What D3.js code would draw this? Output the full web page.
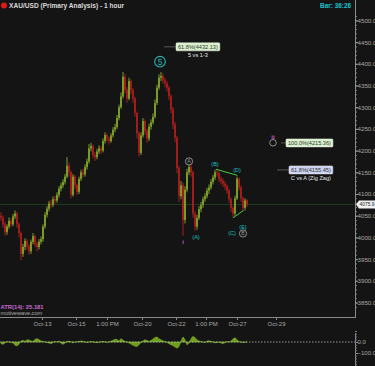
<!DOCTYPE html>
<html><head><meta charset="utf-8">
<script src="https://cdn.jsdelivr.net/npm/d3@7"></script>
<style>
html,body{margin:0;padding:0;background:#141414;}
svg{display:block;font-family:"Liberation Sans",Arial,sans-serif;}
</style></head>
<body>
<svg id="c" width="375" height="366"></svg>
<script>
// ---- data (hourly XAU/USD, condensed bars) ----
const opens = [4050,4045,4030,4012,4025,4038,4030,4048,4055,4030,4010,3962,3978,3992,3980,3968,3990,4003,3985,3978,3990,3996,4025,4052,4066,4078,4075,4088,4085,4098,4112,4120,4128,4140,4165,4150,4098,4140,4120,4105,4135,4150,4145,4162,4175,4205,4210,4190,4185,4198,4205,4200,4222,4236,4228,4222,4235,4248,4254,4275,4300,4325,4370,4340,4320,4360,4340,4320,4287,4240,4195,4235,4268,4245,4228,4255,4265,4278,4310,4345,4368,4372,4362,4355,4345,4325,4295,4260,4230,4160,4095,4120,4040,4110,4150,4162,4150,4055,4025,4045,4065,4075,4088,4095,4108,4115,4128,4138,4150,4148,4135,4130,4124,4118,4108,4088,4068,4055,4090,4135,4115,4090,4068,4085];
const closes = [4045,4030,4012,4025,4038,4030,4048,4055,4030,4010,3962,3978,3992,3980,3968,3990,4003,3985,3978,3990,3996,4025,4052,4066,4078,4075,4088,4085,4098,4112,4120,4128,4140,4165,4150,4098,4140,4120,4105,4135,4150,4145,4162,4175,4205,4210,4190,4185,4198,4205,4200,4222,4236,4228,4222,4235,4248,4254,4275,4300,4325,4370,4340,4320,4360,4340,4320,4287,4240,4195,4235,4268,4245,4228,4255,4265,4278,4310,4345,4368,4372,4362,4355,4345,4325,4295,4260,4230,4160,4095,4120,4040,4110,4150,4162,4150,4055,4025,4045,4065,4075,4088,4095,4108,4115,4128,4138,4150,4148,4135,4130,4124,4118,4108,4088,4068,4055,4090,4135,4115,4090,4068,4085,4076];
const highs = [4058,4050,4036,4030,4046,4044,4054,4062,4058,4034,4014,3985,3998,3996,3984,3995,4010,4006,3990,3996,4002,4030,4058,4072,4084,4086,4094,4096,4104,4118,4126,4134,4146,4185,4172,4154,4146,4144,4124,4140,4156,4158,4168,4182,4215,4218,4214,4196,4204,4212,4210,4228,4242,4240,4232,4240,4254,4262,4282,4306,4334,4381,4376,4346,4368,4364,4344,4324,4290,4244,4242,4275,4272,4250,4262,4272,4286,4318,4352,4376,4381,4378,4368,4360,4350,4330,4300,4266,4234,4165,4130,4126,4118,4158,4168,4166,4154,4060,4052,4072,4082,4094,4102,4114,4122,4134,4144,4156,4156,4152,4140,4136,4130,4122,4112,4092,4072,4096,4140,4138,4120,4094,4090,4088];
const lows = [4038,4022,4004,4006,4020,4024,4026,4042,4022,4000,3947,3955,3970,3972,3960,3962,3984,3978,3968,3972,3984,3990,4020,4046,4060,4068,4070,4078,4080,4092,4106,4114,4122,4136,4140,4090,4094,4112,4098,4100,4130,4138,4140,4156,4170,4198,4182,4176,4180,4192,4192,4196,4216,4220,4214,4218,4230,4242,4250,4270,4296,4320,4332,4310,4316,4330,4310,4278,4228,4186,4190,4230,4236,4218,4222,4248,4260,4274,4305,4340,4360,4354,4346,4336,4316,4286,4250,4220,4148,4082,4088,4004,4032,4104,4144,4140,4045,4015,4018,4040,4058,4068,4082,4090,4100,4110,4122,4132,4140,4128,4122,4116,4110,4100,4080,4058,4046,4050,4086,4108,4082,4060,4062,4070];
const osc = [-15,-20,-10,5,0,-5,-10,-30,-35,-20,10,15,5,20,18,10,5,25,30,22,10,5,0,-5,-10,-15,-5,5,0,10,-12,-20,-10,5,8,2,-8,0,3,5,10,6,0,-5,0,5,2,-4,-6,-2,3,6,2,-3,0,8,15,25,22,10,30,18,5,0,-10,-20,-30,-38,-40,-25,-5,10,20,15,5,15,28,42,45,30,20,10,5,-5,-15,-25,-35,-45,-55,-40,5,45,20,-25,-10,30,50,40,20,10,5,0,-5,8,12,6,0,-8,-5,0,-10,-14,-6,5,0,10,28,38,20,5,0,-5,-3,2];
const xTickIdx = [20.5, 37.5, 53, 70.5, 87.5, 102.5, 118, 137.5];
const xTickLabels = ["Oct-13","Oct-15","1:00 PM","Oct-20","Oct-22","1:00 PM","Oct-27","Oct-29"];
const yTicks = [3850,3900,3950,4000,4050,4100,4150,4200,4250,4300,4350,4400,4450,4500];
const lastPrice = 4075.9;
// wave labels: [barIndex, price, text, style]
const waveLabels = [
  [79.5, 4405, "5", "teal"],
  [94, 4175, "A", "grey"],
  [97.5, 4000, "(A)", "cyan"],
  [107, 4170, "(B)", "cyan"],
  [115.5, 4010, "(C)", "cyan"],
  [118, 4155, "(D)", "cyan"],
  [121, 4024, "(E)", "cyan"],
  [121, 4009, "B", "grey"]
];
const trendB_D = [[107.5, 4157], [118.2, 4143]];
const trendC_E = [[116, 4045], [121.2, 4062]];
const fibs = [
  {price: 4432.13, text: "61.8%(4432.13)", from: 79.5, x0: 176, bg: "#d9f2cc", sub: "5 vs 1-3", dy: -3},
  {price: 4215.36, text: "100.0%(4215.36)", from: 138, x0: 286, bg: "#d9f2cc", sub: null, dy: -1},
  {price: 4155.45, text: "61.8%(4155.45)", from: 136, x0: 289, bg: "#cdd3f2", sub: "C vs A (Zig Zag)", dy: 0}
];

// ---- scales ----
const svg = d3.select("#c");
const W = 375, H = 366;
const axisX = 355, plotTop = 12, plotBottom = 317;
const x = d3.scaleLinear().domain([-0.5, 177]).range([0, axisX]);
const y = d3.scaleLinear().domain([3850, 4500]).range([302.5, 20.4]);
const yo = d3.scaleLinear().domain([-100, 0]).range([353, 342]);

svg.append("rect").attr("width", W).attr("height", H).attr("fill", "#141414");

// title
svg.append("circle").attr("cx", 4).attr("cy", 5.5).attr("r", 3).attr("fill", "#e01818");
svg.append("text").attr("x", 9).attr("y", 8).attr("fill", "#d8d8d8").attr("font-size", 6.6).attr("font-weight", "bold")
  .text("XAU/USD (Primary Analysis) - 1 hour");
svg.append("text").attr("x", 351).attr("y", 8).attr("text-anchor", "end").attr("fill", "#19c4d0").attr("font-size", 6.4).attr("font-weight", "bold")
  .text("Bar: 36:26");

// last price line
svg.append("line").attr("x1", 0).attr("x2", axisX).attr("y1", y(lastPrice)).attr("y2", y(lastPrice))
  .attr("stroke", "#1d3d1d").attr("stroke-width", 1);

// candles
const bars = d3.range(closes.length);
const up = i => closes[i] >= opens[i];
const gc = svg.append("g");
gc.selectAll("line.w").data(bars).join("line")
  .attr("x1", i => x(i)).attr("x2", i => x(i))
  .attr("y1", i => y(highs[i])).attr("y2", i => y(lows[i]))
  .attr("stroke", i => up(i) ? "#86ad2c" : "#b41f1f").attr("stroke-width", 0.9);
gc.selectAll("rect").data(bars).join("rect")
  .attr("x", i => x(i) - 0.8).attr("width", 1.6)
  .attr("y", i => y(Math.max(opens[i], closes[i])))
  .attr("height", i => Math.max(0.8, Math.abs(y(opens[i]) - y(closes[i]))))
  .attr("fill", i => up(i) ? "#86ad2c" : "#b41f1f");

// "i" marker under low
svg.append("text").attr("x", x(91)).attr("y", y(4004) + 8).attr("text-anchor", "middle")
  .attr("fill", "#c45ec4").attr("font-size", 6).attr("font-weight", "bold").text("i");

// trend lines
const line = d3.line().x(d => x(d[0])).y(d => y(d[1]));
[trendB_D, trendC_E].forEach(t => svg.append("path").attr("d", line(t)).attr("stroke", "#3ed13e").attr("stroke-width", 1).attr("fill", "none"));

// wave labels
waveLabels.forEach(([bi, p, t, s]) => {
  const cx = x(bi), cy = y(p);
  if (s === "teal") {
    svg.append("circle").attr("cx", cx).attr("cy", cy).attr("r", 5.3).attr("fill", "none").attr("stroke", "#1fb8b8").attr("stroke-width", 1.1);
    svg.append("text").attr("x", cx).attr("y", cy + 3).attr("text-anchor", "middle").attr("fill", "#1fb8b8").attr("font-size", 8.5).text(t);
  } else if (s === "grey") {
    svg.append("circle").attr("cx", cx).attr("cy", cy).attr("r", 3.6).attr("fill", "none").attr("stroke", "#9a9a9a").attr("stroke-width", 0.9);
    svg.append("text").attr("x", cx).attr("y", cy + 2).attr("text-anchor", "middle").attr("fill", "#9a9a9a").attr("font-size", 5).text(t);
  } else {
    svg.append("text").attr("x", cx).attr("y", cy + 2).attr("text-anchor", "middle").attr("fill", "#1ec0c8").attr("font-size", 5.5).text(t);
  }
});

// ii marker
svg.append("text").attr("x", x(136)).attr("y", y(4232) + 2).attr("text-anchor", "middle")
  .attr("fill", "#c45ec4").attr("font-size", 6).attr("font-weight", "bold").text("ii");
svg.append("circle").attr("cx", x(136)).attr("cy", y(4218)).attr("r", 3.3).attr("fill", "none").attr("stroke", "#9a9a9a").attr("stroke-width", 0.9);

// fib labels
fibs.forEach(f => {
  const cy = y(f.price) + f.dy;
  svg.append("line").attr("x1", x(f.from) + 4).attr("x2", f.x0).attr("y1", cy).attr("y2", cy).attr("stroke", "#555").attr("stroke-width", 1);
  const t = svg.append("text").attr("x", f.x0 + 2).attr("y", cy + 2.2).attr("fill", "#333").attr("font-size", 5.6).text(f.text);
  const w = t.node().getComputedTextLength();
  svg.insert("rect", () => t.node()).attr("x", f.x0).attr("y", cy - 4).attr("width", w + 4).attr("height", 8).attr("rx", 1)
    .attr("fill", f.bg).attr("stroke", "#eee").attr("stroke-width", 0.5);
  if (f.sub) svg.append("text").attr("x", f.x0 + (w + 4) / 2).attr("y", cy + 10).attr("text-anchor", "middle")
    .attr("fill", "#e8e8e8").attr("font-size", 5.6).text(f.sub);
});

// x axis
const gx = svg.append("g").attr("transform", `translate(0,${plotBottom})`)
  .call(d3.axisBottom(x).tickValues(xTickIdx).tickFormat((d, i) => xTickLabels[i]).tickSize(3).tickSizeOuter(0));
gx.select(".domain").attr("stroke", "#8a8a8a").attr("d", `M0,0.5H${axisX}`);
gx.selectAll(".tick line").attr("stroke", "#8a8a8a");
gx.selectAll(".tick text").attr("fill", "#a8a8a8").attr("font-size", 6).attr("dy", "0.5em").attr("font-family", "Liberation Sans, Arial");

// y axis minor ticks
const gym = svg.append("g").attr("transform", `translate(${axisX},0)`)
  .call(d3.axisRight(y).tickValues(d3.range(3840, 4511, 10)).tickSize(2).tickFormat(""));
gym.select(".domain").remove();
gym.selectAll(".tick line").attr("stroke", "#777");
// y axis major
const gy = svg.append("g").attr("transform", `translate(${axisX},0)`)
  .call(d3.axisRight(y).tickValues(yTicks).tickSize(3).tickFormat(d3.format(".1f")));
gy.select(".domain").attr("stroke", "#8a8a8a").attr("d", `M0.5,0V${plotBottom + 1}`);
gy.selectAll(".tick line").attr("stroke", "#999");
gy.selectAll(".tick text").attr("fill", "#a8a8a8").attr("font-size", 6.2).attr("x", 2.5).attr("font-family", "Liberation Sans, Arial");

// last price tag
const ly = y(lastPrice);
svg.append("path").attr("d", `M${axisX + 1},${ly} L${axisX + 4},${ly - 4} H375 V${ly + 4} H${axisX + 4} Z`).attr("fill", "#f0f0f0");
svg.append("text").attr("x", axisX + 4.5).attr("y", ly + 2).attr("fill", "#222").attr("font-size", 5.4)
  .attr("textLength", 15).attr("lengthAdjust", "spacingAndGlyphs").text(lastPrice.toFixed(1));

// bottom-left info
svg.append("text").attr("x", 0.5).attr("y", 309).attr("fill", "#c86ad0").attr("font-size", 5.8).attr("font-weight", "bold").text("ATR(14): 25.181");
svg.append("text").attr("x", 0.5).attr("y", 315).attr("fill", "#b0b0b0").attr("font-size", 5.6).text("motivewave.com");

// oscillator panel
const area = d3.area().x((d, i) => x(i)).y0(yo(0)).y1(d => yo(d)).curve(d3.curveMonotoneX);
svg.append("path").attr("d", area(osc)).attr("fill", "#6e9e1e").attr("stroke", "#7fb028").attr("stroke-width", 0.5);
svg.append("line").attr("x1", 0).attr("x2", axisX).attr("y1", yo(0)).attr("y2", yo(0))
  .attr("stroke", "#cfcfcf").attr("stroke-width", 0.7).attr("stroke-dasharray", "1.5,1.5");
const go = svg.append("g").attr("transform", `translate(${axisX},0)`)
  .call(d3.axisRight(yo).tickValues([0, -100]).tickSize(3).tickFormat(d3.format(".1f")));
go.select(".domain").attr("stroke", "#8a8a8a").attr("d", `M0.5,333V366`);
go.selectAll(".tick line").attr("stroke", "#999");
go.selectAll(".tick text").attr("fill", "#a8a8a8").attr("font-size", 6).attr("x", 2.5).attr("font-family", "Liberation Sans, Arial");
const gom = svg.append("g").attr("transform", `translate(${axisX},0)`)
  .call(d3.axisRight(yo).tickValues(d3.range(-200, 101, 25)).tickSize(2).tickFormat(""));
gom.select(".domain").remove();
gom.selectAll(".tick line").attr("stroke", "#777");
</script>
</body></html>
